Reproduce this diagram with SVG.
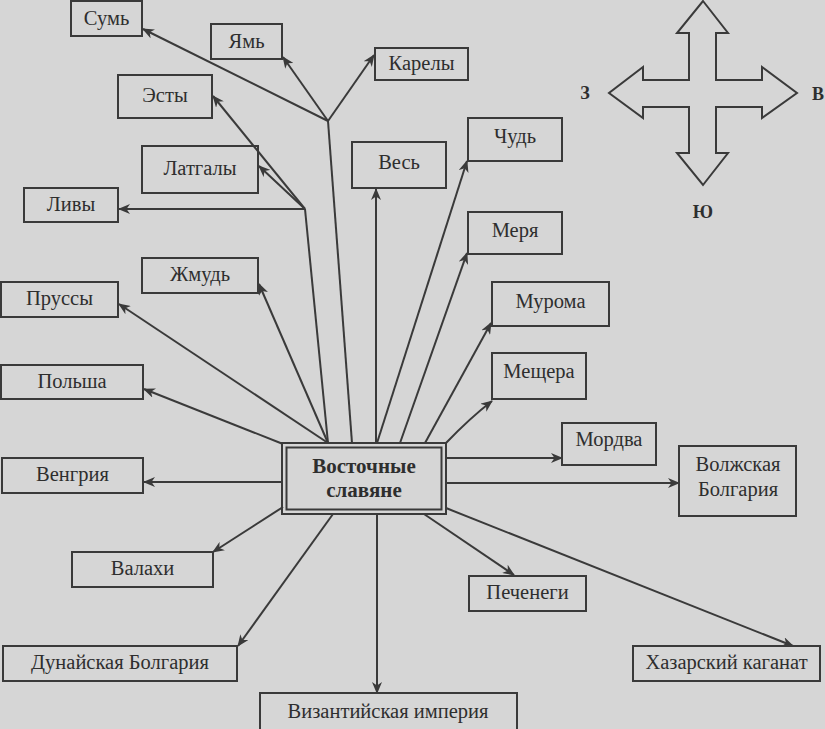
<svg xmlns="http://www.w3.org/2000/svg" width="825" height="729" viewBox="0 0 825 729">
<defs>
<style>
.bg{fill:#d6d6d6}
.box{fill:none;stroke:#3a3a3a;stroke-width:2}
.t{font-family:"Liberation Serif","Times New Roman",serif;font-size:20.5px;fill:#2e2e2e;text-anchor:middle}
.tb{font-family:"Liberation Serif","Times New Roman",serif;font-size:21px;font-weight:bold;fill:#2e2e2e;text-anchor:middle}
.ln{fill:none;stroke:#3a3a3a;stroke-width:2}
.ar{fill:none;stroke:#3a3a3a;stroke-width:2;marker-end:url(#ah)}
</style>
<marker id="ah" viewBox="0 0 12 10" refX="11" refY="5" markerWidth="12" markerHeight="10" markerUnits="userSpaceOnUse" orient="auto">
<path d="M0,0 L12,5 L0,10 L3.5,5 z" fill="#3a3a3a"/>
</marker>
</defs>
<rect class="bg" x="0" y="0" width="825" height="729"/>

<g id="connectors">
<path class="ln" d="M352,443 L328,121"/>
<path class="ln" d="M328,443 L305,209"/>
<path class="ar" d="M328,121 L143,29"/>
<path class="ar" d="M328,121 L283,57"/>
<path class="ar" d="M328,121 L374,55"/>
<path class="ar" d="M305,209 L119,209"/>
<path class="ar" d="M305,209 L213,96"/>
<path class="ar" d="M305,209 L259,166"/>
<path class="ar" d="M328,443 L259,284"/>
<path class="ar" d="M328,443 L119,304"/>
<path class="ar" d="M283,444 L144,389"/>
<path class="ar" d="M282,482 L144,482"/>
<path class="ar" d="M283,507 L213,552"/>
<path class="ar" d="M333,514 L238,646"/>
<path class="ar" d="M377,514 L377,693"/>
<path class="ar" d="M424,514 L514,575"/>
<path class="ar" d="M446,508 L793,646"/>
<path class="ar" d="M446,483 L679,483"/>
<path class="ar" d="M446,458 L562,458"/>
<path class="ar" d="M446,443 Q470,418 492,401"/>
<path class="ar" d="M425,443 L491,323"/>
<path class="ar" d="M400,443 L467,253"/>
<path class="ar" d="M377,443 L467,161"/>
<path class="ar" d="M376,443 L376,189"/>
</g>

<g id="center">
<rect class="box" x="282" y="443" width="164" height="71"/>
<rect class="box" x="286.5" y="447.5" width="155" height="62"/>
<text class="tb" x="364" y="473">Восточные</text>
<text class="tb" x="364" y="497">славяне</text>
</g>

<g id="sum"><rect class="box" x="71" y="1" width="71" height="35"/><text class="t" x="106.5" y="25">Сумь</text></g>
<g id="yam"><rect class="box" x="211" y="24" width="71" height="35"/><text class="t" x="246.5" y="48">Ямь</text></g>
<g id="karely"><rect class="box" x="375" y="48" width="93" height="32"/><text class="t" x="421.5" y="70">Карелы</text></g>
<g id="esty"><rect class="box" x="118" y="75" width="94" height="43"/><text class="t" x="165" y="102">Эсты</text></g>
<g id="latgaly"><rect class="box" x="142" y="146" width="116" height="47"/><text class="t" x="200" y="175">Латгалы</text></g>
<g id="livy"><rect class="box" x="24" y="188" width="94" height="34"/><text class="t" x="71" y="211">Ливы</text></g>
<g id="ves"><rect class="box" x="352" y="142" width="94" height="46"/><text class="t" x="399" y="169">Весь</text></g>
<g id="chud"><rect class="box" x="468" y="118" width="94" height="43"/><text class="t" x="515" y="143">Чудь</text></g>
<g id="merya"><rect class="box" x="468" y="212" width="94" height="42"/><text class="t" x="515" y="237">Меря</text></g>
<g id="muroma"><rect class="box" x="492" y="282" width="117" height="44"/><text class="t" x="550.5" y="308">Мурома</text></g>
<g id="meshchera"><rect class="box" x="492" y="353" width="94" height="46"/><text class="t" x="539" y="378">Мещера</text></g>
<g id="zhmud"><rect class="box" x="142" y="258" width="116" height="35"/><text class="t" x="200" y="281">Жмудь</text></g>
<g id="prussy"><rect class="box" x="1" y="282" width="117" height="35"/><text class="t" x="59.5" y="305">Пруссы</text></g>
<g id="polsha"><rect class="box" x="1" y="365" width="142" height="34"/><text class="t" x="72" y="388">Польша</text></g>
<g id="vengriya"><rect class="box" x="2" y="458" width="141" height="35"/><text class="t" x="72.5" y="481">Венгрия</text></g>
<g id="valakhi"><rect class="box" x="72" y="552" width="141" height="35"/><text class="t" x="142.5" y="575">Валахи</text></g>
<g id="dunay"><rect class="box" x="3" y="646" width="234" height="35"/><text class="t" x="120" y="669">Дунайская Болгария</text></g>
<g id="vizantiya"><rect class="box" x="260" y="693" width="257" height="40"/><text class="t" x="388" y="718">Византийская империя</text></g>
<g id="pechenegi"><rect class="box" x="469" y="576" width="117" height="35"/><text class="t" x="527.5" y="599">Печенеги</text></g>
<g id="khazar"><rect class="box" x="633" y="646" width="187" height="35"/><text class="t" x="726.5" y="669">Хазарский каганат</text></g>
<g id="mordva"><rect class="box" x="562" y="423" width="94" height="42"/><text class="t" x="609" y="446">Мордва</text></g>
<g id="volzh"><rect class="box" x="679" y="446" width="117" height="70"/><text class="t" x="738" y="471">Волжская</text><text class="t" x="738" y="496">Болгария</text></g>

<g id="compass">
<polygon class="box" points="703,1 728,33 716,33 716,80 762,80 762,67 797,93 762,118 762,107 716,107 716,153 728,153 703,185 677,153 689,153 689,107 643,107 643,118 609,93 643,67 643,80 689,80 689,33 677,33"/>
<text class="tb" x="585" y="99" style="font-size:18px">З</text>
<text class="tb" x="818" y="100" style="font-size:18px">В</text>
<text class="tb" x="703" y="218" style="font-size:18px">Ю</text>
</g>
</svg>
